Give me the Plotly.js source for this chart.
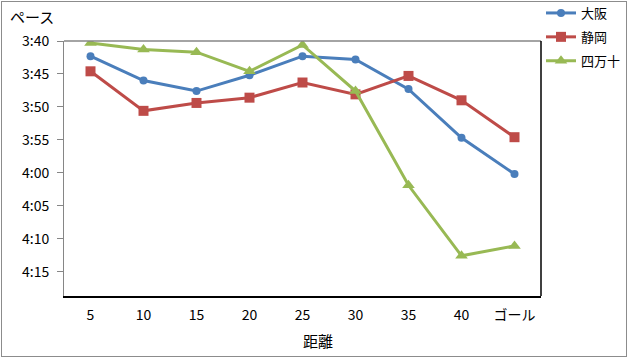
<!DOCTYPE html>
<html><head><meta charset="utf-8">
<script src="https://cdn.plot.ly/plotly-3.0.1.min.js"></script>
<style>
html,body{margin:0;padding:0;background:#fff;}
#frame{position:absolute;left:1px;top:1px;width:626px;height:356px;border:1px solid #8c8c8c;box-sizing:border-box;}
#chart{position:absolute;left:0;top:0;width:631px;height:363px;}
</style></head>
<body>
<div id="chart"></div>
<div id="frame"></div>
<script>
const categories = ['5','10','15','20','25','30','35','40','ゴール'];
// pace in seconds per km
const osaka    = [222.3, 226.0, 227.6, 225.2, 222.3, 222.8, 227.3, 234.7, 240.2];
const shizuoka = [224.6, 230.6, 229.4, 228.6, 226.3, 228.1, 225.3, 229.0, 234.6];
const shimanto = [220.3, 221.3, 221.7, 224.6, 220.6, 227.6, 241.9, 252.6, 251.1];
const yTickVals = [220, 225, 230, 235, 240, 245, 250, 255];
const yTickText = ['3:40','3:45','3:50','3:55','4:00','4:05','4:10','4:15'];

const font = 'Noto Sans CJK JP, Noto Sans, sans-serif';
function tr(name, y, color, symbol, size, g){
  return {type:'scatter', mode:'lines+markers', name:name, x:categories, y:y,
    legendgroup:g,
    line:{color:color, width:3}, marker:{color:color, symbol:symbol, size:size}};
}
const data = [
  tr('大阪', osaka, '#4A7EBB', 'circle', 8, 'a'),
  tr('静岡', shizuoka, '#BE4B48', 'square', 10, 'b'),
  tr('四万十', shimanto, '#98B954', 'triangle-up', 11, 'c')
];
const layout = {
  width:631, height:363,
  margin:{l:64, r:90, t:41, b:67, autoexpand:false},
  paper_bgcolor:'rgba(0,0,0,0)', plot_bgcolor:'#fff',
  font:{family:font, size:14, color:'#000'},
  showlegend:true,
  legend:{x:(541-64)/477, xanchor:'left', y:1+(41+2)/255, yanchor:'top', traceorder:'grouped', tracegroupgap:4,
    font:{family:font, size:13, color:'#000'}, bgcolor:'rgba(0,0,0,0)', itemwidth:30},
  xaxis:{type:'category', range:[-0.5, 8.5], showline:true, linecolor:'#000', linewidth:1.5,
    showgrid:false, ticks:'', zeroline:false, tickfont:{size:14}, ticklabelstandoff:6, fixedrange:true},
  yaxis:{range:[258.7, 220], tickvals:yTickVals, ticktext:yTickText, showline:true,
    linecolor:'#868686', linewidth:1, ticks:'outside', ticklen:6, tickcolor:'#868686',
    showgrid:false, zeroline:false, tickfont:{size:14}, ticklabelstandoff:5},
  shapes:[
    {type:'line', xref:'paper', yref:'paper', x0:0, x1:1, y0:1, y1:1, line:{color:'#868686', width:1.5}},
    {type:'line', xref:'paper', yref:'paper', x0:1, x1:1, y0:0, y1:1, line:{color:'#000', width:1.5}}
  ],
  annotations:[
    {text:'ペース', xref:'paper', yref:'paper', x:(8-64)/477, xanchor:'left', y:1+(41-17)/255, yanchor:'middle', showarrow:false, font:{size:15}},
    {text:'距離', xref:'paper', yref:'paper', x:(318-64)/477, xanchor:'center', y:-(340-296)/255, yanchor:'middle', showarrow:false, font:{size:15}}
  ]
};
Plotly.newPlot('chart', data, layout, {displayModeBar:false, staticPlot:true});
</script>
</body></html>
